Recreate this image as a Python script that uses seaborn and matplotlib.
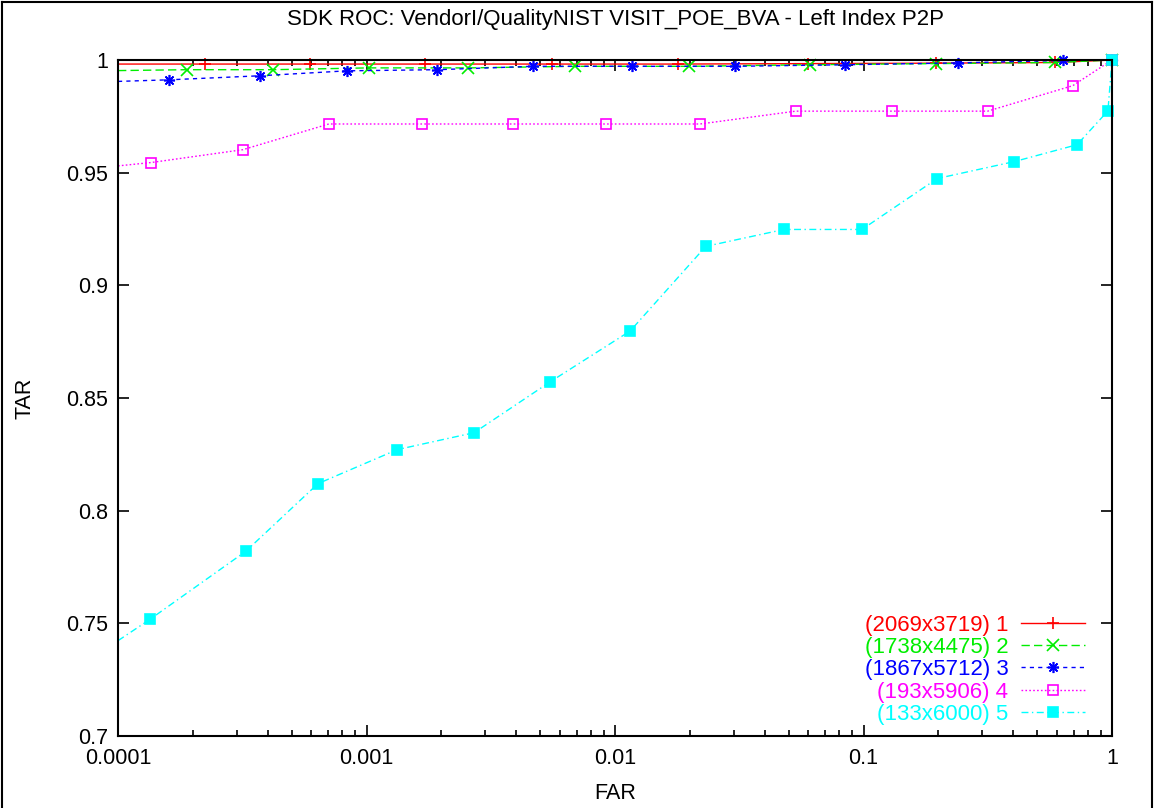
import matplotlib
matplotlib.use("Agg")
import matplotlib.pyplot as plt
from matplotlib.lines import Line2D
from matplotlib.ticker import LogLocator, FuncFormatter, MultipleLocator, NullFormatter
import seaborn as sns

plt.rcParams["font.family"] = ["Liberation Sans", "DejaVu Sans"]

title = "SDK ROC: VendorI/QualityNIST VISIT_POE_BVA - Left Index P2P"
series_labels = ["(2069x3719) 1", "(1738x4475) 2", "(1867x5712) 3",
                 "(193x5906) 4", "(133x6000) 5"]

far_1 = [1e-4, 2.23e-4, 5.93e-4, 1.72e-3, 5.56e-3, 0.0179, 0.0598, 0.196, 0.590, 1.0]
tar_1 = [0.9982, 0.9982, 0.9982, 0.9982, 0.9982, 0.9982, 0.9984, 0.9986, 0.9989, 1.0]

far_2 = [1e-4, 1.89e-4, 4.22e-4, 1.02e-3, 2.57e-3, 6.9e-3, 0.0199, 0.061, 0.196, 0.59, 1.0]
tar_2 = [0.9953, 0.9957, 0.9957, 0.9965, 0.9965, 0.9972, 0.9972, 0.9979, 0.9984, 0.9989, 1.0]

far_3 = [1e-4, 1.60e-4, 3.73e-4, 8.36e-4, 1.93e-3, 4.67e-3, 0.0117, 0.0304, 0.0845,
         0.240, 0.634, 1.0]
tar_3 = [0.9905, 0.9912, 0.9930, 0.9952, 0.9957, 0.9972, 0.9972, 0.9972, 0.9979,
         0.9987, 0.9998, 1.0]

far_4 = [1e-4, 1.36e-4, 3.18e-4, 7.05e-4, 1.67e-3, 3.87e-3, 9.2e-3, 0.022, 0.0533,
         0.130, 0.316, 0.695, 1.0]
tar_4 = [0.9530, 0.9545, 0.9602, 0.9716, 0.9716, 0.9716, 0.9716, 0.9716, 0.9773,
         0.9773, 0.9773, 0.9886, 1.0]

far_5 = [1e-4, 1.35e-4, 3.27e-4, 6.38e-4, 1.33e-3, 2.71e-3, 5.47e-3, 0.0115, 0.0232,
         0.0479, 0.0986, 0.198, 0.404, 0.723, 0.963, 1.0]
tar_5 = [0.7423, 0.7519, 0.7820, 0.8120, 0.8271, 0.8346, 0.8571, 0.8797, 0.9173,
         0.9248, 0.9248, 0.9474, 0.9549, 0.9624, 0.9774, 1.0]

colors = ["#ff0000", "#00ee00", "#0000ff", "#ff00ff", "#00ffff"]
line_styles = ["-", (0, (6, 3)), (0, (3, 3)), (0, (1.2, 1.6)), (0, (5, 2.5, 1, 2.5))]
markers = ["+", "x", (8, 2, 0), "s", "s"]
hollow = [False, False, False, True, False]

fig = plt.figure(figsize=(11.54, 8.08), dpi=100)
ax = fig.add_axes([118 / 1154, 1 - 736 / 808, 994 / 1154, 676 / 808])

curves = [(far_1, tar_1), (far_2, tar_2), (far_3, tar_3), (far_4, tar_4), (far_5, tar_5)]
for i, (fx, ty) in enumerate(curves):
    kw = dict(color=colors[i], linestyle=line_styles[i], linewidth=1.0,
              marker=markers[i], markersize=8 if i < 3 else 7.5,
              markeredgewidth=1.2, markeredgecolor=colors[i],
              markerfacecolor="none" if hollow[i] else colors[i],
              markevery=list(range(1, len(fx))), clip_on=False)
    sns.lineplot(x=fx, y=ty, ax=ax, estimator=None, sort=False,
                 label=series_labels[i], **kw)

ax.set_xscale("log")
ax.set_xlim(1e-4, 1)
ax.set_ylim(0.7, 1.0)
ax.xaxis.set_major_locator(LogLocator(base=10, numticks=10))
ax.xaxis.set_minor_locator(LogLocator(base=10, subs=range(2, 10), numticks=20))
ax.xaxis.set_minor_formatter(NullFormatter())
ax.xaxis.set_major_formatter(FuncFormatter(lambda v, _: f"{v:g}"))
ax.yaxis.set_major_locator(MultipleLocator(0.05))
ax.yaxis.set_major_formatter(FuncFormatter(lambda v, _: f"{round(v, 2):g}"))

ax.tick_params(which="both", direction="in", top=True, right=True,
               labelsize=15.5, colors="black", width=1.2)
ax.tick_params(which="major", length=8)
ax.tick_params(axis="x", which="major", pad=9)
ax.tick_params(axis="y", which="major", pad=7)
ax.tick_params(which="minor", length=4)
for sp in ax.spines.values():
    sp.set_linewidth(1.5)
    sp.set_color("black")

ax.set_xlabel("FAR", fontsize=15.5, labelpad=10)
ax.set_ylabel("TAR", fontsize=15.5, labelpad=22)
fig.text((118 + 1112) / 2 / 1154, 1 - 20 / 808, title, fontsize=16,
         ha="center", va="center")

leg = ax.legend(loc="lower right", bbox_to_anchor=(0.984, 0.0), frameon=False,
                markerfirst=False, fontsize=16, labelcolor="linecolor",
                handlelength=2.9, handletextpad=0.55, labelspacing=0.06,
                borderpad=0, numpoints=1)

# outer frame of the figure
for xs, ys in [([0.002, 0.002], [0.0, 0.998]), ([0.002, 0.998], [0.998, 0.998]),
               ([0.998, 0.998], [0.998, 0.0])]:
    fig.add_artist(Line2D(xs, ys, color="black", linewidth=1.5,
                          transform=fig.transFigure))

fig.savefig("out.png", dpi=100, facecolor="white")
